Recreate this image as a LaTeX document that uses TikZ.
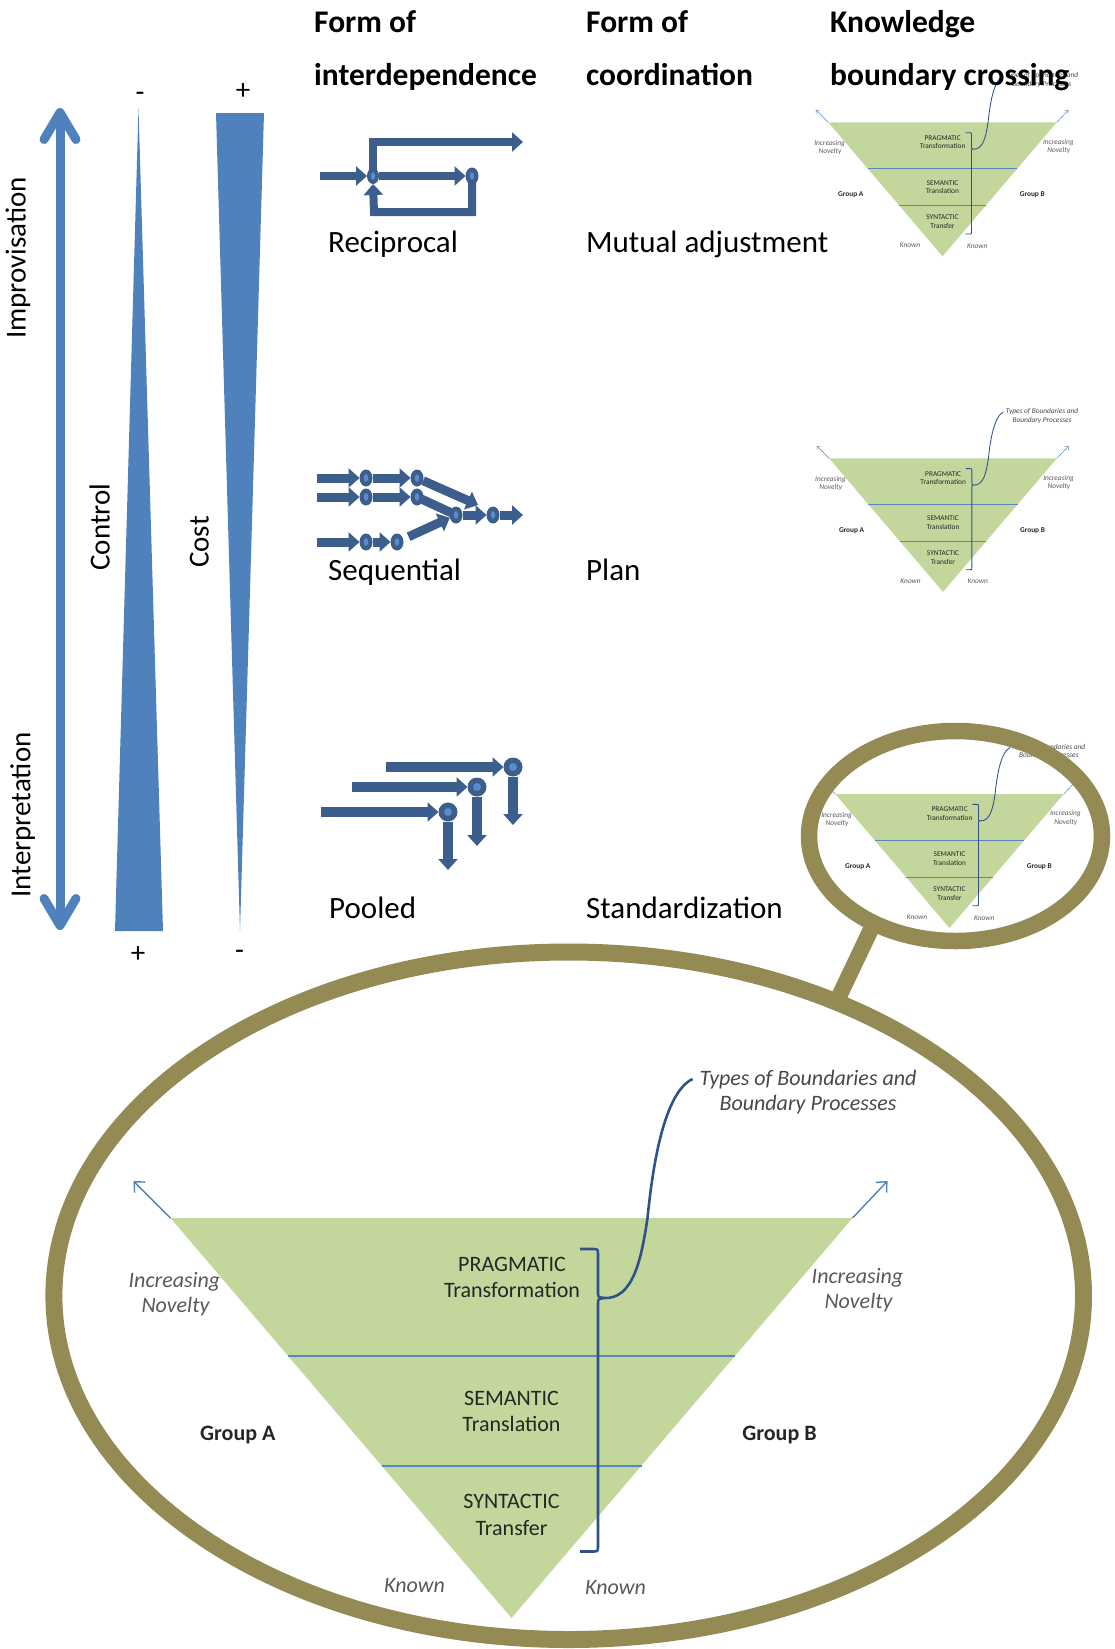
\documentclass[tikz,border=0pt]{standalone}
\usepackage{fontspec}
\setmainfont{Carlito}
\usetikzlibrary{arrows.meta,shapes.geometric,backgrounds,calc}

\definecolor{axisblue}{HTML}{4F81BD}
\definecolor{procblue}{HTML}{3B5E8C}
\definecolor{dotblue}{HTML}{5B8CC8}
\definecolor{ringolive}{HTML}{948A54}
\definecolor{kbgreen}{HTML}{C3D69B}
\definecolor{bandblue}{HTML}{5A86BE}
\definecolor{bracenavy}{HTML}{2F5388}
\definecolor{notegray}{HTML}{595959}
\definecolor{inkdark}{HTML}{262626}

\tikzset{
  headtxt/.style={font=\fontsize{31.5}{36}\selectfont\bfseries, anchor=base west, inner sep=0pt},
  bodytxt/.style={font=\fontsize{31}{36}\selectfont, anchor=base west, inner sep=0pt},
  sidetxt/.style={font=\fontsize{29}{34}\selectfont, inner sep=0pt, text height=.7em, text depth=.2em, rotate=90},
  signtxt/.style={font=\fontsize{29}{34}\selectfont, anchor=base, inner sep=0pt},
  wedge/.style={fill=axisblue},
  parrow/.style={procblue, line width=8pt, -{Triangle[length=11pt,width=19pt]}},
  pline/.style={procblue, line width=8pt},
  pdot/.style={ellipse, fill=procblue, minimum width=13pt, minimum height=17pt, inner sep=0pt, outer sep=0pt,
    path picture={\fill[dotblue] (path picture bounding box.center) ellipse (2.2pt and 3.8pt);}},
  pring/.style={circle, fill=procblue, minimum size=19pt, inner sep=0pt, outer sep=0pt,
    path picture={\fill[dotblue] (path picture bounding box.center) circle (4pt);}},
  kbtxt/.style={font=\fontsize{22}{26}\selectfont, text=inkdark, inner sep=0pt, text height=.7em, text depth=.2em},
  kbgroup/.style={kbtxt, font=\fontsize{22}{26}\selectfont\bfseries},
  kbnote/.style={kbtxt, font=\fontsize{22}{26}\selectfont\itshape, text=notegray},
  ring/.style={draw=ringolive, ellipse, inner sep=0pt},
  pics/kbd/.style={code={
    \begin{scope}[scale=#1, transform shape]
      % funnel of knowledge layers
      \fill[kbgreen] (-341,0) -- (341,0) -- (0,400) -- cycle;
      \draw[bandblue, line width=#1*2pt] (-223.8,137.5) -- (223.8,137.5);
      \draw[bandblue, line width=#1*2pt] (-130,247.5) -- (130,247.5);
      % novelty arrows
      \draw[axisblue, line width=#1*1.4pt, -{Straight Barb[length=8pt,width=15pt,scale=#1]}] (-341,0) -- (-378,-37);
      \draw[axisblue, line width=#1*1.4pt, -{Straight Barb[length=8pt,width=15pt,scale=#1]}] (341,0) -- (376,-37);
      % brace and callout line
      \draw[bracenavy, line width=#1*2.6pt, line join=round]
        (68.5,31) -- (81,31) .. controls (86.5,31) .. (86.5,37) -- (86.5,74)
        .. controls (86.5,79) .. (92,80) .. controls (86.5,81) .. (86.5,86)
        -- (86.5,327) .. controls (86.5,333.5) .. (81,333.5) -- (68.5,333.5);
      \draw[bracenavy, line width=#1*2.6pt]
        (92,80) .. controls (122,82) and (130,40) .. (136,0)
        .. controls (141,-50) and (152,-125) .. (181,-139);
      % labels
      \node[kbtxt] (-prag) at (0.5,50.7) {PRAGMATIC};
      \node[kbtxt] (-trf) at (0.5,77) {Transformation};
      \node[kbtxt] (-sem) at (0,185) {SEMANTIC};
      \node[kbtxt] (-trl) at (0,210.6) {Translation};
      \node[kbtxt] (-syn) at (0,288) {SYNTACTIC};
      \node[kbtxt] (-trn) at (0,315) {Transfer};
      \node[kbgroup] (-ga) at (-273.7,220) {Group A};
      \node[kbgroup] (-gb) at (268,220) {Group B};
      \node[kbnote] (-inl) at (-337,66.5) {Increasing};
      \node[kbnote] (-nvl) at (-336,92) {Novelty};
      \node[kbnote] (-inr) at (346,63) {Increasing};
      \node[kbnote] (-nvr) at (347,87.5) {Novelty};
      \node[kbnote] (-knl) at (-97,371.6) {Known};
      \node[kbnote] (-knr) at (104,373.7) {Known};
      \node[kbnote, text=inkdark!85] (-typ) at (296.5,-135.5) {Types of Boundaries and};
      \node[kbnote, text=inkdark!85] (-bpr) at (296.5,-110) {Boundary Processes};
    \end{scope}
  }}
}

\begin{document}
\begin{tikzpicture}[x=1pt, y=-1pt]
\useasboundingbox (0,0) rectangle (1114,1649);

% ---- improvisation / interpretation axis
\coordinate (impTip) at (60,112.5);
\coordinate (intTip) at (60,925.5);
\draw[axisblue, line width=9pt] (impTip) -- (intTip);
\draw[axisblue, line width=9pt, line cap=round, line join=round]
  ($(impTip)+(-16,27)$) -- (impTip) -- ($(impTip)+(16,27)$);
\draw[axisblue, line width=9pt, line cap=round, line join=round]
  ($(intTip)+(-16,-27)$) -- (intTip) -- ($(intTip)+(16,-27)$);

% ---- control and cost wedges
\fill[wedge] (138.5,108) -- (163,931) -- (115,931) -- cycle;
\fill[wedge] (216,113) -- (264,113) -- (240,931) -- cycle;

\node[signtxt] (ctrlTop) at (140,101) {-};
\node[signtxt] (costTop) at (243,99) {+};
\node[signtxt] (ctrlBot) at (138,962.5) {+};
\node[signtxt] (costBot) at (239.5,959.5) {-};

\node[sidetxt] (improv) at (23,258) {Improvisation};
\node[sidetxt] (interp) at (28,815) {Interpretation};
\node[sidetxt] (ctrl) at (107,527) {Control};
\node[sidetxt] (cost) at (206,542) {Cost};

% ---- reciprocal interdependence
\node[pdot, minimum width=12pt, minimum height=16pt] (r1) at (373,176) {};
\node[pdot] (r2) at (472,176) {};
\coordinate (rIn) at (320,176);
\coordinate (rOut) at (523,142);
\coordinate (rLoop) at (374,212);
\begin{scope}[on background layer]
  \draw[parrow] (rIn) -- (r1);
  \draw[parrow] (r1.center) |- (rOut);
  \draw[parrow] (r1) -- (r2);
  \draw[parrow] (r2.center) |- (rLoop) -- (r1.south);
\end{scope}

% ---- sequential interdependence
\node[pdot] (a1) at (366,478) {};
\node[pdot] (a2) at (417,478) {};
\node[pdot] (b1) at (366,497) {};
\node[pdot] (b2) at (417,497) {};
\node[pdot] (c1) at (366,542) {};
\node[pdot] (c2) at (397,542) {};
\node[pdot] (d) at (456,515) {};
\node[pdot] (e) at (493,515) {};
\coordinate (aIn) at (317,478);
\coordinate (bIn) at (317,497);
\coordinate (cIn) at (317,542);
\coordinate (aOut) at (478,505);
\coordinate (eOut) at (523,515);
\begin{scope}[on background layer]
  \draw[parrow, line width=9pt] (aIn) -- (a1);
  \draw[parrow, line width=9pt] (a1) -- (a2);
  \draw[parrow, line width=9pt] (bIn) -- (b1);
  \draw[parrow, line width=9pt] (b1) -- (b2);
  \draw[parrow, line width=9pt] (cIn) -- (c1);
  \draw[parrow, line width=9pt] (c1) -- (c2);
  \draw[parrow, line width=9pt] (a2) -- (aOut);
  \draw[pline, line width=9pt] (b2.center) -- (d.center);
  \draw[parrow, line width=9pt, shorten <=6pt] (c2) -- (d);
  \draw[parrow, line width=9pt] (d) -- (e);
  \draw[parrow, line width=9pt] (e) -- (eOut);
\end{scope}

% ---- pooled interdependence
\node[pring] (p1) at (513,767) {};
\node[pring] (p2) at (477,787) {};
\node[pring] (p3) at (448,812) {};
\coordinate (p1In) at (386,767);
\coordinate (p2In) at (352,787);
\coordinate (p3In) at (321,812);
\coordinate (p1Out) at (513,825);
\coordinate (p2Out) at (477,846);
\coordinate (p3Out) at (448,870);
\begin{scope}[on background layer]
  \draw[parrow, line width=10pt] (p1In) -- (p1);
  \draw[parrow, line width=10pt] (p2In) -- (p2);
  \draw[parrow, line width=10pt] (p3In) -- (p3);
  \draw[parrow, line width=10pt] (p1) -- (p1Out);
  \draw[parrow, line width=10pt] (p2) -- (p2Out);
  \draw[parrow, line width=10pt] (p3) -- (p3Out);
\end{scope}

% ---- row labels
\node[bodytxt] (recip) at (328,252) {Reciprocal};
\node[bodytxt] (seq) at (328,580) {Sequential};
\node[bodytxt] (pool) at (329,918) {Pooled};
\node[bodytxt] (mutual) at (586,252) {Mutual adjustment};
\node[bodytxt] (plan) at (586,580) {Plan};
\node[bodytxt] (std) at (586,918) {Standardization};

% ---- knowledge boundary diagrams
\pic (kbtop) at (942.5,122.3) {kbd=0.335};
\pic (kbmid) at (943,458.3) {kbd=0.334};
\pic (kblens) at (949.5,794) {kbd=0.335};
\pic (kbbig) at (511.5,1218) {kbd=1};

% ---- magnifier
\node[ring, line width=17pt, minimum width=1029.6pt, minimum height=687.5pt] (bigring) at (568.7,1295.75) {};
\node[ring, line width=16.5pt, minimum width=293pt, minimum height=210pt] (lens) at (955.5,836) {};
\draw[ringolive, line width=16pt, shorten <=-6pt, shorten >=-6pt] (lens.-132) -- (bigring.48);

% ---- column headings
\node[headtxt] (h1a) at (314,32) {Form of};
\node[headtxt] (h1b) at (314,85) {interdependence};
\node[headtxt] (h2a) at (586,32) {Form of};
\node[headtxt] (h2b) at (586,85) {coordination};
\node[headtxt] (h3a) at (830,32) {Knowledge};
\node[headtxt] (h3b) at (830,85) {boundary crossing};
\end{tikzpicture}
\end{document}
